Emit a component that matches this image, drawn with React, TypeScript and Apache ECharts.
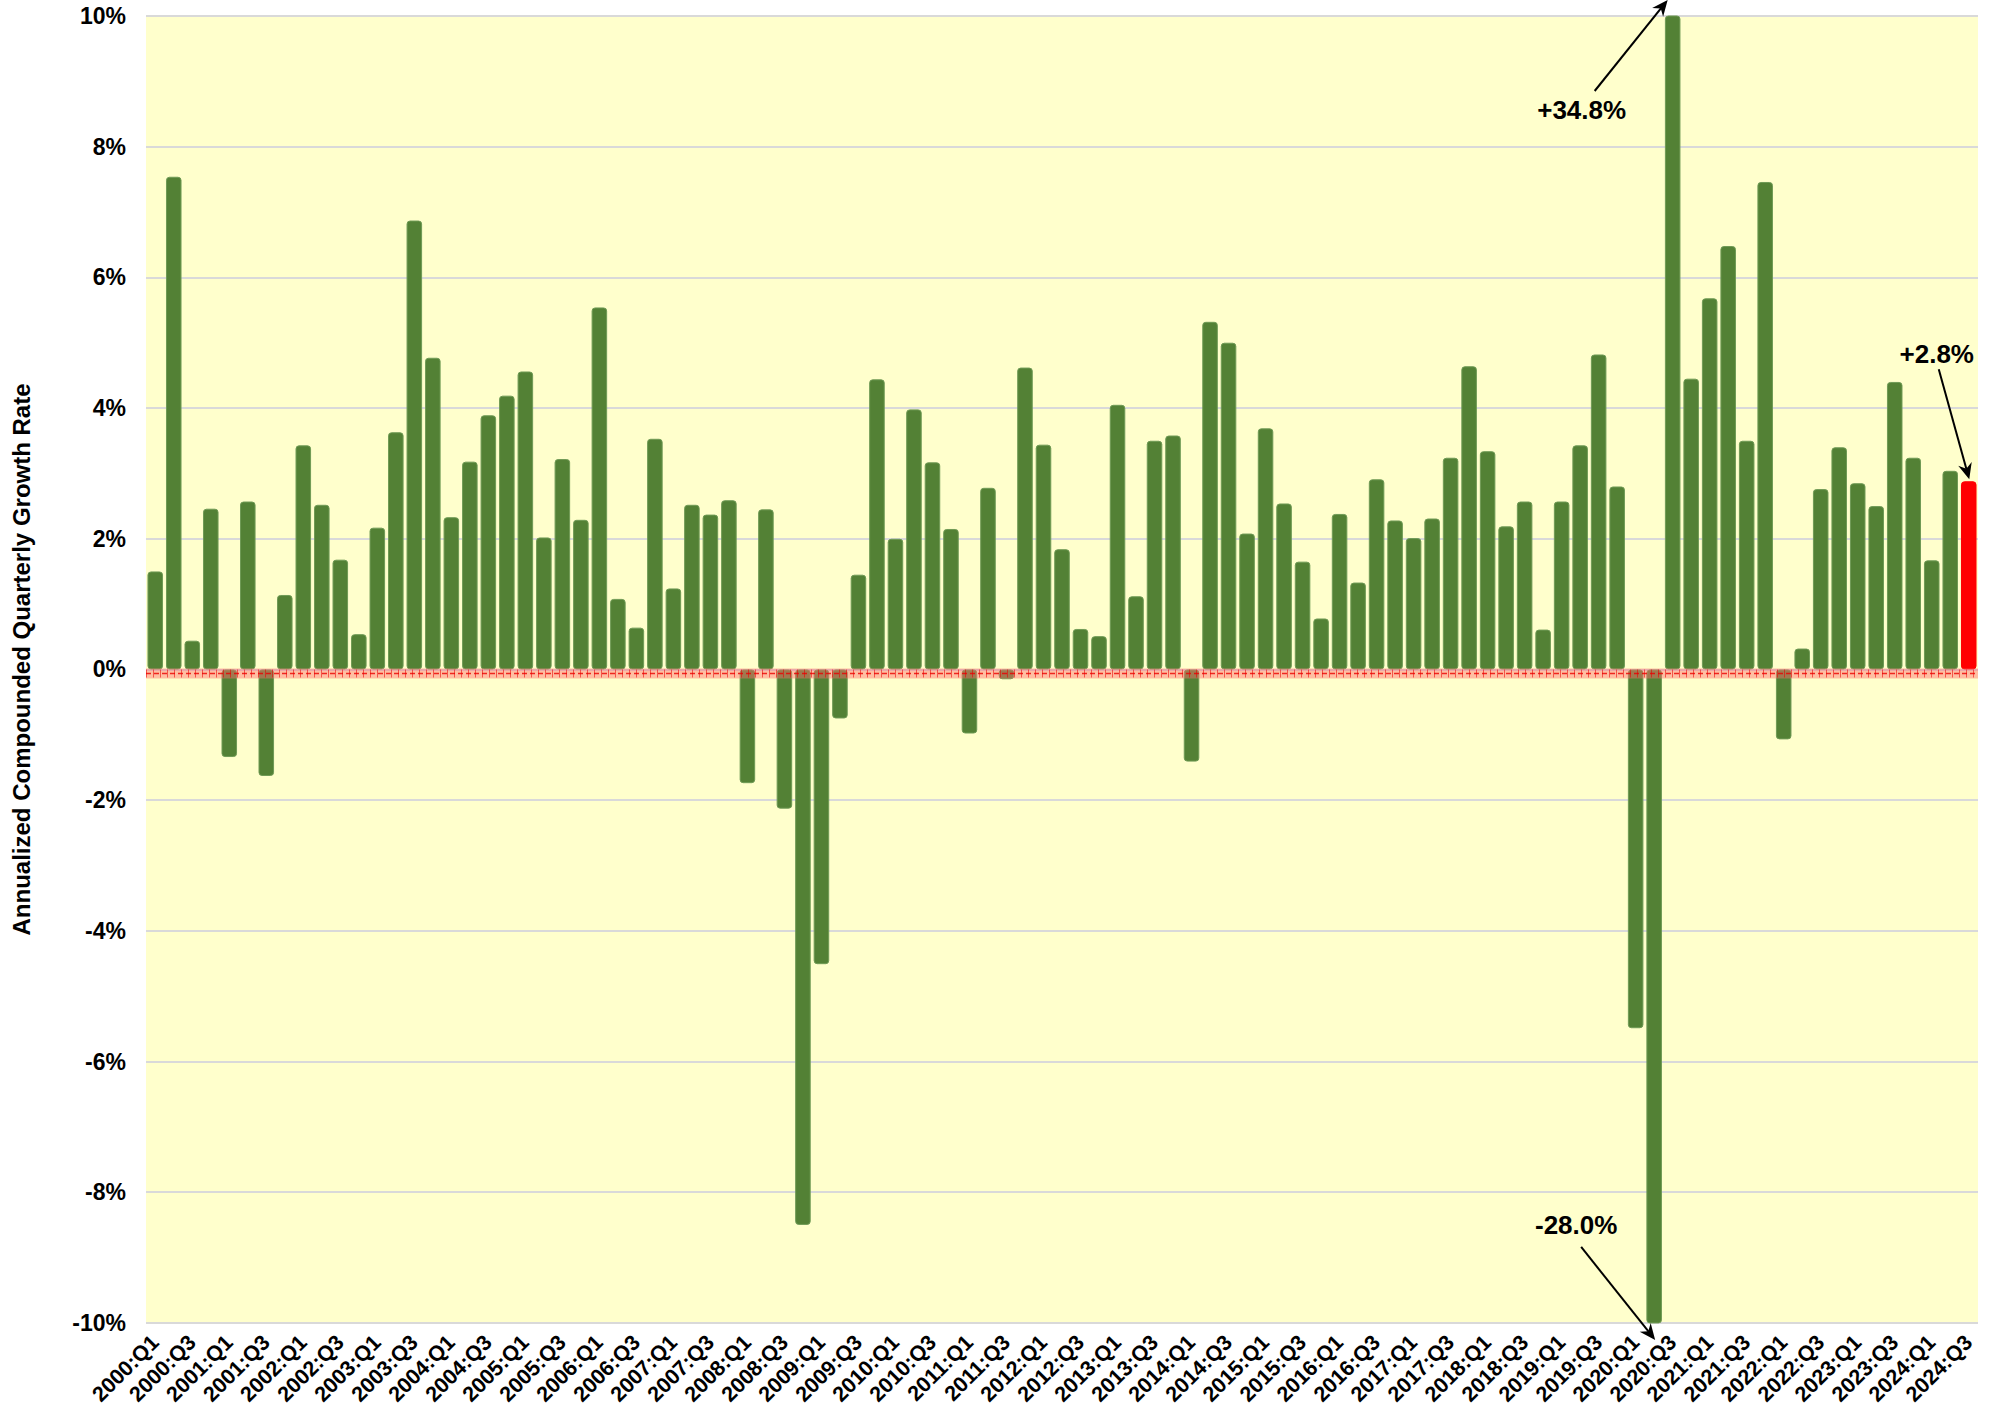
import React, { useEffect, useRef } from "react";
import * as echarts from "echarts";

// Quarter labels 2000:Q1 .. 2024:Q3
const startYear = 2000;
const quarterCount = 99;
const categories: string[] = [];
for (let i = 0; i < quarterCount; i++) {
  categories.push(`${startYear + Math.floor(i / 4)}:Q${(i % 4) + 1}`);
}

// Annualized compounded quarterly growth rate (%)
const growth: number[] = [
  1.5, 7.54, 0.44, 2.46, -1.34, 2.57, -1.63, 1.14,
  3.43, 2.52, 1.68, 0.54, 2.17, 3.63, 6.87, 4.77,
  2.33, 3.18, 3.89, 4.19, 4.56, 2.02, 3.22, 2.29,
  5.54, 1.08, 0.64, 3.53, 1.24, 2.52, 2.37, 2.59,
  -1.74, 2.45, -2.13, -8.5, -4.51, -0.75, 1.45, 4.44,
  2.0, 3.98, 3.17, 2.15, -0.98, 2.78, -0.15, 4.62,
  3.44, 1.84, 0.62, 0.51, 4.05, 1.12, 3.5, 3.58,
  -1.41, 5.32, 5.0, 2.08, 3.69, 2.54, 1.65, 0.78,
  2.38, 1.33, 2.91, 2.28, 2.01, 2.31, 3.24, 4.64,
  3.34, 2.19, 2.57, 0.61, 2.57, 3.43, 4.82, 2.8,
  -5.49, -28.0, 34.8, 4.45, 5.68, 6.48, 3.5, 7.46,
  -1.07, 0.32, 2.76, 3.4, 2.85, 2.5, 4.4, 3.24,
  1.67, 3.04, 2.88,
];

const highlightIndex = 98;
const yTicks = { min: -10, max: 10, interval: 2 };
const annotationTexts = { peak: "+34.8%", trough: "-28.0%", latest: "+2.8%" };
const peakIndex = 82;
const troughIndex = 81;

const GREEN = "#538135";
const FONT = "'Liberation Sans', Arial, sans-serif";

function arrow(x1: number, y1: number, x2: number, y2: number) {
  const dx = x2 - x1;
  const dy = y2 - y1;
  const len = Math.sqrt(dx * dx + dy * dy);
  const ux = dx / len;
  const uy = dy / len;
  const nx = -uy;
  const ny = ux;
  const L = 16;
  const W = 7;
  const inset = 5;
  const bx = x2 - ux * L;
  const by = y2 - uy * L;
  return [
    {
      type: "line",
      silent: true,
      z: 100,
      shape: { x1, y1, x2: x2 - ux * 6, y2: y2 - uy * 6 },
      style: { stroke: "#000", lineWidth: 2 },
    },
    {
      type: "polygon",
      silent: true,
      z: 100,
      shape: {
        points: [
          [x2, y2],
          [bx + nx * W, by + ny * W],
          [x2 - ux * (L - inset), y2 - uy * (L - inset)],
          [bx - nx * W, by - ny * W],
        ],
      },
      style: { fill: "#000" },
    },
  ];
}

function label(x: number, y: number, text: string) {
  return {
    type: "text",
    silent: true,
    z: 100,
    x,
    y,
    style: {
      text,
      fontSize: 26,
      fontWeight: "bold",
      fontFamily: FONT,
      fill: "#000",
      align: "center",
      verticalAlign: "middle",
    },
  };
}

export default function App() {
  const ref = useRef<HTMLDivElement>(null);

  useEffect(() => {
    if (!ref.current) return;
    const chart = echarts.init(ref.current, undefined, { renderer: "svg" });

    const data = growth.map((v, i) =>
      i === highlightIndex ? { value: v, itemStyle: { color: "#FF0000", borderColor: "#FF0000" } } : v
    );

    const gridLeft = 146;
    const gridRight = 18;

    chart.setOption({
      animation: false,
      backgroundColor: "#ffffff",
      grid: {
        left: gridLeft,
        right: gridRight,
        top: 16,
        bottom: 85,
        show: true,
        backgroundColor: "#FFFFCC",
        borderWidth: 0,
      },
      xAxis: {
        type: "category",
        data: categories,
        axisLine: { show: false, onZero: false },
        axisTick: { show: false },
        axisLabel: {
          interval: 1,
          rotate: 45,
          margin: 16,
          fontSize: 21.5,
          fontWeight: "bold",
          fontFamily: FONT,
          color: "#000",
        },
      },
      yAxis: {
        type: "value",
        min: yTicks.min,
        max: yTicks.max,
        interval: yTicks.interval,
        name: "Annualized Compounded Quarterly Growth Rate",
        nameLocation: "middle",
        nameGap: 113,
        nameTextStyle: {
          fontSize: 24,
          fontWeight: "bold",
          fontFamily: FONT,
          color: "#000",
          padding: [0, 0, 0, 20],
        },
        axisLine: { show: false },
        axisTick: { show: false },
        axisLabel: {
          formatter: (v: number) => `${v}%`,
          fontSize: 23,
          fontWeight: "bold",
          fontFamily: FONT,
          color: "#000",
          margin: 20,
        },
        splitLine: { lineStyle: { color: "#d9d9d9", width: 2 } },
      },
      series: [
        {
          type: "bar",
          data,
          barCategoryGap: "16%",
          itemStyle: {
            color: GREEN,
            borderColor: "#6f9a55",
            borderWidth: 1,
            borderRadius: 3,
          },
        },
      ],
    });

    const px = (i: number, v: number) => chart.convertToPixel({ gridIndex: 0 }, [i, v]) as number[];
    const [pcx, pTop] = px(peakIndex, yTicks.max);
    const [tcx, tBot] = px(troughIndex, yTicks.min);
    const [lcx, lTop] = px(highlightIndex, growth[highlightIndex]);
    const y0 = px(0, 0)[1];
    const xStart = gridLeft;
    const xEnd = 1996 - gridRight;

    chart.setOption({
      graphic: [
        // zero baseline band (red hatched look)
        {
          type: "rect",
          silent: true,
          z: 50,
          shape: { x: xStart, y: y0 - 1, width: xEnd - xStart, height: 10 },
          style: { fill: "rgba(255,110,110,0.45)" },
        },
        {
          type: "line",
          silent: true,
          z: 51,
          shape: { x1: xStart, y1: y0 + 4, x2: xEnd, y2: y0 + 4 },
          style: { stroke: "rgba(235,0,0,0.55)", lineWidth: 8, lineDash: [1, 6] },
        },
        {
          type: "line",
          silent: true,
          z: 52,
          shape: { x1: xStart, y1: y0 + 4, x2: xEnd, y2: y0 + 4 },
          style: { stroke: "rgba(235,0,0,0.8)", lineWidth: 1.5, lineDash: [5, 3] },
        },
        ...arrow(pcx - 78, pTop + 75, pcx - 5, pTop - 16),
        label(pcx - 91, pTop + 94, annotationTexts.peak),
        ...arrow(tcx - 73, tBot - 76, tcx + 1, tBot + 17),
        label(tcx - 78, tBot - 98, annotationTexts.trough),
        ...arrow(lcx - 30, lTop - 112, lcx + 0.5, lTop - 2),
        label(lcx - 32, lTop - 127, annotationTexts.latest),
      ],
    });

    return () => chart.dispose();
  }, []);

  return (
    <div
      ref={ref}
      style={{ position: "absolute", left: 0, top: 0, width: 1996, height: 1408 }}
    />
  );
}
